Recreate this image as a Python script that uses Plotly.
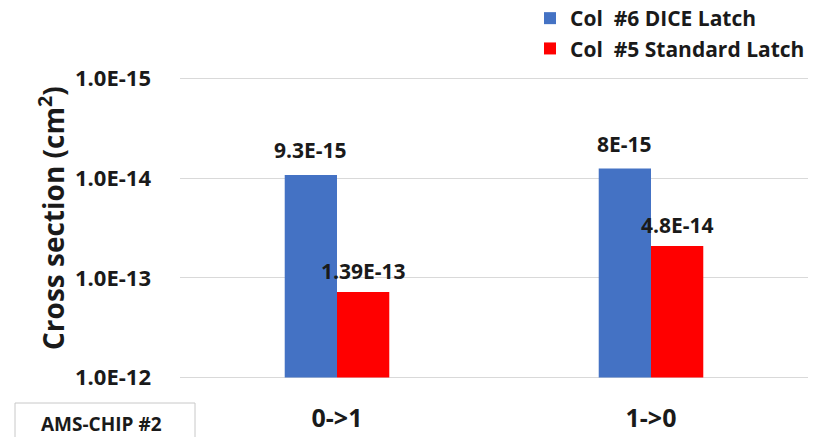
import math
import plotly.graph_objects as go

# Upset cross sections per transition, AMS-CHIP #2
transitions = ["0->1", "1->0"]
dice_latch = [9.3e-15, 8e-15]        # Col #6 DICE Latch
standard_latch = [1.39e-13, 4.8e-14]  # Col #5 Standard Latch
series_names = ["Col\u00a0 #6 DICE Latch", "Col\u00a0 #5 Standard Latch"]
tick_values = [1e-15, 1e-14, 1e-13, 1e-12]
tick_labels = ["1.0E-15", "1.0E-14", "1.0E-13", "1.0E-12"]
floor_value = 1e-12  # bars grow from the bottom of the reversed log axis

BLUE = "#4472C4"
RED = "#FF0000"
FONT = "Open Sans"
TXT = "#1a1a1a"

# plot-area geometry in pixels
L, R, T, B = 180, 808, 77, 379
PW, PH = R - L, B - T


def px_x(px):
    return (px - L) / PW


def px_y(py):
    return (B - py) / PH


def sci_label(v):
    mant, exp = f"{v:E}".split("E")
    mant = mant.rstrip("0").rstrip(".")
    return f"{mant}E{int(exp)}"


fig = go.Figure()
for name, vals, color, grp in [
    (series_names[0], dice_latch, BLUE, "a"),
    (series_names[1], standard_latch, RED, "b"),
]:
    fig.add_trace(go.Bar(
        name=name,
        x=transitions,
        base=vals,
        y=[floor_value - v for v in vals],
        marker=dict(color=color, line=dict(width=0)),
        legendgroup=grp,
    ))

# value labels above each bar
annotations = []
for vals, xshift, yshift in [(dice_latch, -26.5, 25), (standard_latch, 26.5, 21)]:
    for cat, v in zip(transitions, vals):
        annotations.append(dict(
            x=cat, y=math.log10(v), xref="x", yref="y",
            text=sci_label(v), showarrow=False,
            xshift=xshift, yshift=yshift, yanchor="middle",
            font=dict(family=FONT, size=21, color=TXT, weight="bold"),
        ))

# y axis title
annotations.append(dict(
    x=px_x(51), y=px_y(218), xref="paper", yref="paper",
    text="Cross section (cm<sup>2</sup>)", showarrow=False, textangle=-90,
    xanchor="center", yanchor="middle",
    font=dict(family=FONT, size=28, color=TXT, weight="bold"),
))
# chip tag
annotations.append(dict(
    x=px_x(101), y=px_y(424), xref="paper", yref="paper",
    text="AMS-CHIP #2", showarrow=False, xanchor="center", yanchor="middle",
    font=dict(family=FONT, size=19, color=TXT, weight="bold"),
))

fig.update_layout(
    width=823, height=437,
    margin=dict(l=L, r=823 - R, t=T, b=437 - B, autoexpand=False),
    paper_bgcolor="white", plot_bgcolor="white",
    barmode="group", bargap=0.667, bargroupgap=0,
    font=dict(family=FONT, color=TXT),
    showlegend=True,
    legend=dict(
        x=px_x(530), y=px_y(-2), xref="paper", yref="paper",
        xanchor="left", yanchor="top",
        font=dict(family=FONT, size=21, color=TXT, weight="bold"),
        traceorder="grouped", tracegroupgap=0,
        bgcolor="rgba(0,0,0,0)",
    ),
    annotations=annotations,
    shapes=[dict(
        type="rect", xref="paper", yref="paper",
        x0=px_x(15), x1=px_x(195), y0=px_y(403), y1=px_y(450),
        line=dict(color="#c8c8c8", width=1), fillcolor="rgba(0,0,0,0)",
    )],
)
fig.update_xaxes(
    automargin=False,
    showgrid=False, showline=False, zeroline=False,
    ticks="", ticklabelstandoff=22,
    tickfont=dict(family=FONT, size=25, color=TXT, weight="bold"),
)
fig.update_yaxes(
    automargin=False,
    type="log", range=[-11.985, -15.015],
    tickvals=tick_values, ticktext=tick_labels,
    showgrid=True, gridcolor="#d9d9d9", gridwidth=1,
    showline=False, zeroline=False, ticks="",
    ticklabelstandoff=28,
    tickfont=dict(family=FONT, size=22, color=TXT, weight="bold"),
)

fig.write_html("out.html")
